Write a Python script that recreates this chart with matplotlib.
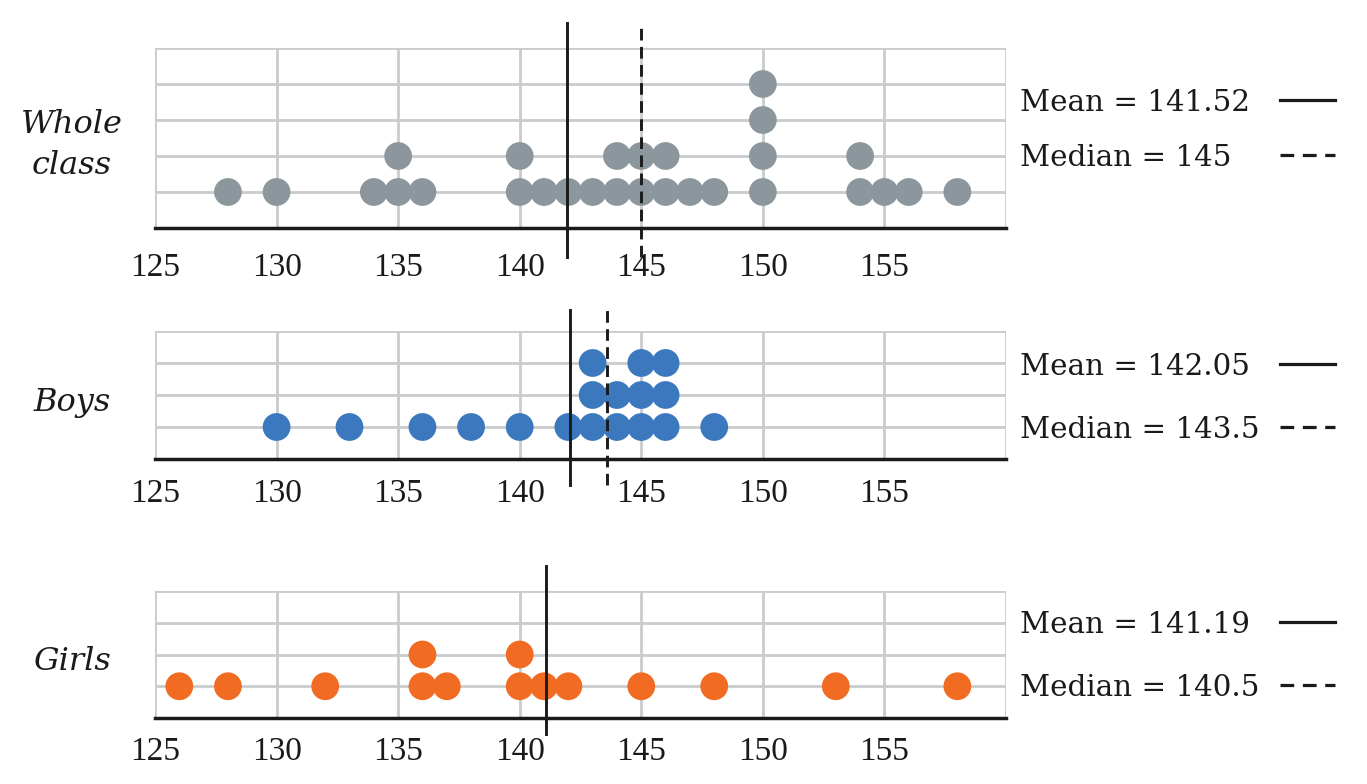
import matplotlib
matplotlib.use('Agg')
import matplotlib.pyplot as plt
from matplotlib.lines import Line2D
from collections import Counter

# --- data ---
whole = [128, 130, 134, 135, 135, 136, 140, 140, 141, 142, 143, 144, 144, 145, 145,
         146, 146, 147, 148, 150, 150, 150, 150, 154, 154, 155, 156, 158]
boys = [130, 133, 136, 138, 140, 142, 143, 143, 143, 144, 144, 145, 145, 145,
        146, 146, 146, 148]
girls = [126, 128, 132, 136, 136, 137, 140, 140, 141, 142, 145, 148, 153, 158]

groups = ["Whole\nclass", "Boys", "Girls"]
mean_text = ["Mean = 141.52", "Mean = 142.05", "Mean = 141.19"]
median_text = ["Median = 145", "Median = 143.5", "Median = 140.5"]
# where the lines sit in the picture
mean_line_at = [141.95, 142.05, 141.1]
median_line_at = [145, 143.6, None]

ticks = [125, 130, 135, 140, 145, 150, 155]
colors = ["#8c979d", "#3c78be", "#f26b23"]
grid_col = "#cacbcd"

W, H = 1367, 784
fig = plt.figure(figsize=(W / 100, H / 100), dpi=100)

# panel boxes in pixels: (top, bottom, rows, line_top, line_bottom, tick pad, label y, legend y's)
panels = [
    (48, 228, 5, 5.7, -0.8, 18, 145, (103, 158)),
    (331, 459, 4, 4.66, -0.81, 14, 403, (367, 430)),
    (591, 718, 4, 4.78, -0.5, 13, 662, (625, 688)),
]
left, right = 155, 1006

for i, data in enumerate([whole, boys, girls]):
    top, bot, rows, ltop, lbot, pad, lab_y, leg_y = panels[i]
    ax = fig.add_axes([left / W, 1 - bot / H, (right - left) / W, (bot - top) / H])
    ax.set_xlim(125, 160)
    ax.set_ylim(0, rows)

    # grid
    for x in range(125, 161, 5):
        ax.axvline(x, color=grid_col, lw=2, zorder=1)
    for y in range(1, rows + 1):
        ax.axhline(y, color=grid_col, lw=2, zorder=1)
    for s in ["left", "right", "top"]:
        ax.spines[s].set_visible(False)
    ax.spines["bottom"].set_color("#1a1a1a")
    ax.spines["bottom"].set_linewidth(2.5)
    ax.spines["bottom"].set_zorder(4)

    # stacked dots
    seen = Counter()
    xs, ys = [], []
    for v in data:
        seen[v] += 1
        xs.append(v)
        ys.append(seen[v])
    ax.scatter(xs, ys, s=400, color=colors[i], edgecolors="none", zorder=3, clip_on=False)

    # mean / median lines
    ax.plot([mean_line_at[i]] * 2, [lbot, ltop], color="#1a1a1a", lw=2.1, zorder=5, clip_on=False)
    if median_line_at[i] is not None:
        ax.plot([median_line_at[i]] * 2, [lbot, ltop], color="#1a1a1a", lw=2.1,
                ls=(0, (4, 2.2)), zorder=5, clip_on=False)

    ax.set_yticks([])
    ax.set_xticks(ticks)
    ax.set_xticklabels([str(t) for t in ticks], family="Liberation Serif", fontsize=24, color="#1a1a1a")
    ax.tick_params(axis="x", length=0, pad=pad)

    # group label
    fig.text(72 / W, 1 - lab_y / H, groups[i], ha="center", va="center", style="italic",
             family="DejaVu Serif", fontsize=23, color="#1a1a1a", linespacing=1.42)

    # legend entries
    for j, (txt, ls) in enumerate([(mean_text[i], "-"), (median_text[i], (0, (4.3, 2.7)))]):
        yy = 1 - leg_y[j] / H
        fig.text(1020 / W, yy, txt, ha="left", va="center", family="DejaVu Serif",
                 fontsize=21.2, color="#1a1a1a")
        fig.add_artist(Line2D([1280 / W, 1335 / W], [yy + 3 / H, yy + 3 / H], color="#1a1a1a",
                              lw=2.3, ls=ls, transform=fig.transFigure))

fig.savefig("out.png", dpi=100, facecolor="white")
